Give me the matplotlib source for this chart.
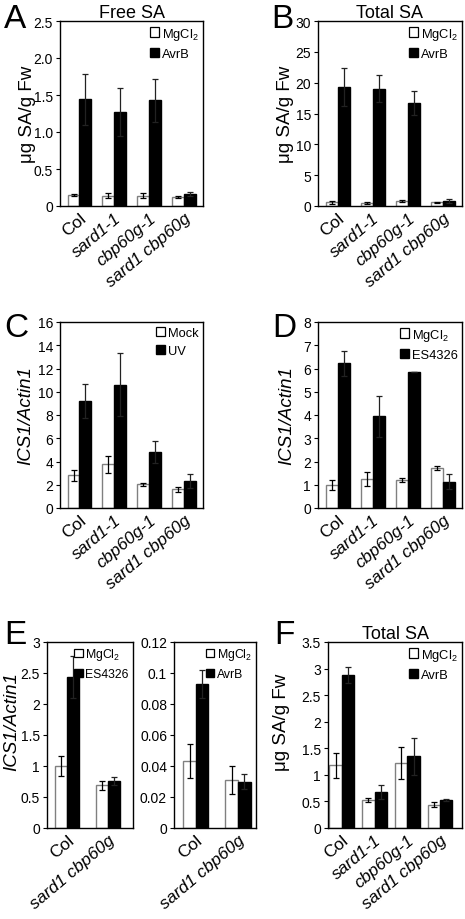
import numpy as np
import matplotlib
matplotlib.use('Agg')
import matplotlib.pyplot as plt
from matplotlib.patches import Patch
from matplotlib import transforms

plt.rcParams['font.family'] = ['Liberation Sans', 'DejaVu Sans']
plt.rcParams['mathtext.default'] = 'regular'

W, H = 465, 920

# --- data ---
genotypes4 = ['Col', 'sard1-1', 'cbp60g-1', 'sard1 cbp60g']
genotypes2 = ['Col', 'sard1 cbp60g']

# A: free SA
a_mgcl2 = [0.15, 0.14, 0.14, 0.12]
a_mgcl2_err = [0.01, 0.03, 0.03, 0.01]
a_avrb = [1.44, 1.27, 1.43, 0.16]
a_avrb_err = [0.34, 0.32, 0.29, 0.03]

# B: total SA
b_mgcl2 = [0.6, 0.5, 0.8, 0.6]
b_mgcl2_err = [0.2, 0.1, 0.1, 0.1]
b_avrb = [19.3, 19.0, 16.7, 0.8]
b_avrb_err = [3.1, 2.2, 1.9, 0.3]

# C: ICS1 after UV
c_mock = [2.8, 3.75, 2.05, 1.6]
c_mock_err = [0.45, 0.75, 0.12, 0.2]
c_uv = [9.2, 10.6, 4.8, 2.35]
c_uv_err = [1.5, 2.7, 0.95, 0.6]

# D: ICS1 after ES4326
d_mgcl2 = [1.0, 1.25, 1.2, 1.73]
d_mgcl2_err = [0.22, 0.3, 0.08, 0.08]
d_es = [6.22, 3.95, 5.85, 1.13]
d_es_err = [0.55, 0.88, 0.02, 0.33]

# E: ICS1 in double mutant
e1_mgcl2 = [1.0, 0.69]
e1_mgcl2_err = [0.16, 0.07]
e1_es = [2.43, 0.76]
e1_es_err = [0.34, 0.07]
e2_mgcl2 = [0.043, 0.031]
e2_mgcl2_err = [0.011, 0.009]
e2_avrb = [0.093, 0.030]
e2_avrb_err = [0.009, 0.005]

# F: total SA
f_mgcl2 = [1.18, 0.53, 1.22, 0.44]
f_mgcl2_err = [0.23, 0.04, 0.3, 0.04]
f_avrb = [2.88, 0.68, 1.35, 0.53]
f_avrb_err = [0.15, 0.13, 0.35, 0.02]

fig = plt.figure(figsize=(W / 100, H / 100), dpi=100)


def add_ax(x0, y0, x1, y1):
    return fig.add_axes([x0 / W, 1 - y1 / H, (x1 - x0) / W, (y1 - y0) / H])


def panel(ax, labels, ctrl, ctrl_err, trt, trt_err, names, ylim, yticks, yticklabels,
          ylabel, ylab_x, ylab_y=0.5, bw=0.34, xlim=(-0.56, 3.55), italic_label=False,
          leg_fs=9.3):
    x = np.arange(len(labels))
    ax.bar(x - bw / 2, ctrl, bw, color='white', edgecolor='#808080', linewidth=1.0)
    ax.bar(x + bw / 2, trt, bw, color='black', edgecolor='black', linewidth=1.0)
    ax.errorbar(x - bw / 2, ctrl, yerr=ctrl_err, fmt='none', ecolor='black',
                elinewidth=0.9, capsize=2, capthick=0.9)
    ax.errorbar(x + bw / 2, trt, yerr=trt_err, fmt='none', ecolor='#222222',
                elinewidth=0.9, capsize=2, capthick=0.9)
    ax.set_xlim(*xlim)
    ax.set_ylim(*ylim)
    ax.set_yticks(yticks)
    ax.set_yticklabels(yticklabels, fontsize=10)
    ax.set_xticks(x)
    offset = transforms.ScaledTranslation(6 / 100, 0, fig.dpi_scale_trans)
    ax.set_xticklabels(labels, rotation=40, ha='right', va='top',
                       rotation_mode='anchor', fontsize=12.5)
    for t in ax.get_xticklabels():
        if t.get_text() != 'Col':
            t.set_fontstyle('italic')
        t.set_transform(t.get_transform() + offset)
    ax.tick_params(axis='x', length=0, pad=3)
    ax.tick_params(axis='y', length=3, width=0.8, pad=2)
    for s in ax.spines.values():
        s.set_linewidth(1.0)
    if ylabel:
        ax.set_ylabel(ylabel, fontsize=13.5, fontstyle='italic' if italic_label else 'normal')
        ax.yaxis.set_label_coords(ylab_x, ylab_y)
    handles = [Patch(facecolor='white', edgecolor='black', linewidth=0.9),
               Patch(facecolor='black', edgecolor='black')]
    ax.legend(handles, names, loc='upper right', frameon=False, fontsize=leg_fs,
              handlelength=0.7, handleheight=0.7, handletextpad=0.2,
              labelspacing=0.5, borderaxespad=0.15, borderpad=0.2)


sa_label = 'μg SA/g Fw'
ics_label = 'ICS1/Actin1'

axA = add_ax(60, 22, 203, 207)
panel(axA, genotypes4, a_mgcl2, a_mgcl2_err, a_avrb, a_avrb_err, ['MgCl$_2$', 'AvrB'],
      (0, 2.5), [0, 0.5, 1.0, 1.5, 2.0, 2.5], ['0', '0.5', '1.0', '1.5', '2.0', '2.5'],
      sa_label, -0.17)
axA.set_title('Free SA', fontsize=13, pad=3)

axB = add_ax(318, 22, 462, 207)
panel(axB, genotypes4, b_mgcl2, b_mgcl2_err, b_avrb, b_avrb_err, ['MgCl$_2$', 'AvrB'],
      (0, 30), [0, 5, 10, 15, 20, 25, 30], ['0', '5', '10', '15', '20', '25', '30'],
      sa_label, -0.165)
axB.set_title('Total SA', fontsize=13, pad=3)

axC = add_ax(60, 323, 203, 509)
panel(axC, genotypes4, c_mock, c_mock_err, c_uv, c_uv_err, ['Mock', 'UV'],
      (0, 16), list(range(0, 17, 2)), [str(v) for v in range(0, 17, 2)],
      ics_label, -0.18, italic_label=True)

axD = add_ax(318, 323, 462, 509)
panel(axD, genotypes4, d_mgcl2, d_mgcl2_err, d_es, d_es_err, ['MgCl$_2$', 'ES4326'],
      (0, 8), list(range(0, 9)), [str(v) for v in range(0, 9)],
      ics_label, -0.155, italic_label=True)

axE1 = add_ax(47, 643, 133, 829)
panel(axE1, genotypes2, e1_mgcl2, e1_mgcl2_err, e1_es, e1_es_err, ['MgCl$_2$', 'ES4326'],
      (0, 3), [0, 0.5, 1, 1.5, 2, 2.5, 3], ['0', '0.5', '1', '1.5', '2', '2.5', '3'],
      ics_label, -0.31, ylab_y=0.575, bw=0.3, xlim=(-0.5, 1.62), italic_label=True,
      leg_fs=8.8)

axE2 = add_ax(174, 643, 256, 829)
panel(axE2, genotypes2, e2_mgcl2, e2_mgcl2_err, e2_avrb, e2_avrb_err, ['MgCl$_2$', 'AvrB'],
      (0, 0.12), [0, 0.02, 0.04, 0.06, 0.08, 0.1, 0.12],
      ['0', '0.02', '0.04', '0.06', '0.08', '0.1', '0.12'],
      None, 0, bw=0.3, xlim=(-0.52, 1.43), leg_fs=8.8)

axF = add_ax(328, 643, 462, 829)
panel(axF, genotypes4, f_mgcl2, f_mgcl2_err, f_avrb, f_avrb_err, ['MgCl$_2$', 'AvrB'],
      (0, 3.5), [0, 0.5, 1, 1.5, 2, 2.5, 3, 3.5],
      ['0', '0.5', '1', '1.5', '2', '2.5', '3', '3.5'],
      sa_label, -0.28, ylab_y=0.575, bw=0.38, xlim=(-0.42, 3.67))
axF.set_title('Total SA', fontsize=13, pad=3)

# panel letters
for letter, (px, py) in {'A': (4, 4), 'B': (271, 4), 'C': (4, 313),
                         'D': (272, 313), 'E': (4, 620), 'F': (274, 620)}.items():
    fig.text(px / W, 1 - py / H, letter, fontsize=24, ha='left', va='top')

fig.savefig('out.png', dpi=100)
